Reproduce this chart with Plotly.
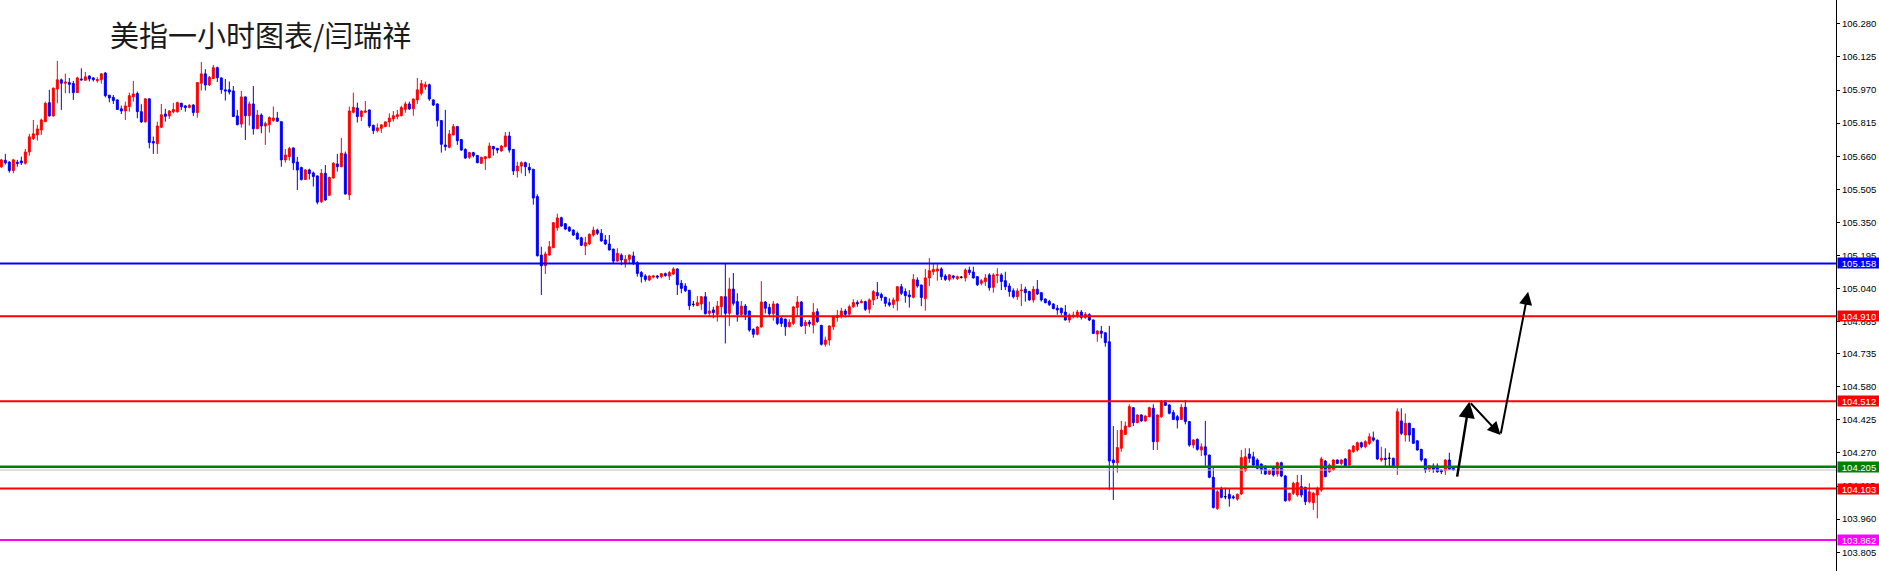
import plotly.graph_objects as go

# ---------------- data (hourly candles, price units) ----------------
opens = [
105.611,105.641,105.633,105.593,105.632,105.638,105.627,105.680,105.743,105.760,
105.783,105.822,105.911,105.849,105.975,106.018,106.002,106.005,106.001,105.958,
106.022,106.016,106.036,106.027,106.014,106.019,106.050,105.946,105.936,105.924,
105.882,105.872,105.893,105.939,105.954,105.869,105.821,105.929,105.729,105.719,
105.796,105.858,105.849,105.868,105.868,105.908,105.896,105.888,105.900,105.865,
106.002,106.046,105.994,106.024,106.075,106.027,105.971,105.971,105.966,105.849,
105.811,105.938,105.850,105.905,105.789,105.853,105.802,105.808,105.828,105.839,
105.822,105.643,105.658,105.699,105.633,105.607,105.551,105.596,105.582,105.568,
105.447,105.580,105.477,105.558,105.624,105.611,105.671,105.479,105.866,105.886,
105.846,105.866,105.877,105.805,105.780,105.791,105.799,105.821,105.835,105.846,
105.850,105.880,105.905,105.882,105.924,105.955,105.985,105.995,105.924,105.905,
105.827,105.713,105.702,105.760,105.799,105.738,105.692,105.655,105.677,105.664,
105.627,105.649,105.653,105.706,105.697,105.685,105.705,105.755,105.692,105.591,
105.614,105.630,105.608,105.599,105.471,105.197,105.147,105.197,105.232,105.325,
105.372,105.344,105.327,105.314,105.299,105.278,105.240,105.250,105.291,105.314,
105.299,105.268,105.249,105.225,105.169,105.197,105.158,105.177,105.193,105.161,
105.115,105.099,105.080,105.094,105.099,105.096,105.110,105.099,105.108,105.132,
105.065,105.052,105.032,104.966,104.960,104.968,105.002,104.924,104.940,104.919,
104.955,105.002,104.924,105.038,104.979,104.919,104.958,104.935,104.849,104.826,
104.860,104.977,104.952,104.922,104.968,104.901,104.897,104.861,104.877,104.952,
104.977,104.866,104.883,104.869,104.932,104.868,104.779,104.799,104.861,104.905,
104.912,104.935,104.920,104.955,104.975,104.974,104.979,104.943,104.987,105.021,
105.012,104.999,104.974,104.966,104.982,105.049,105.026,105.010,104.999,105.080,
105.057,104.993,105.090,105.119,105.122,105.132,105.099,105.083,105.099,105.087,
105.093,105.090,105.127,105.118,105.096,105.065,105.073,105.104,105.046,105.102,
105.104,105.077,105.052,105.030,105.002,105.030,105.037,105.026,104.987,105.037,
105.021,104.991,104.980,104.968,104.948,104.948,104.930,104.893,104.912,104.912,
104.930,104.905,104.918,104.893,104.827,104.841,104.833,104.791,104.237,104.224,
104.292,104.357,104.393,104.482,104.412,104.448,104.420,104.440,104.479,104.323,
104.440,104.513,104.495,104.459,104.440,104.427,104.484,104.417,104.307,104.334,
104.284,104.299,104.260,104.156,104.010,104.104,104.065,104.076,104.065,104.054,
104.078,104.187,104.265,104.252,104.237,104.218,104.198,104.171,104.198,104.171,
104.224,104.162,104.049,104.081,104.073,104.112,104.109,104.042,104.037,104.073,
104.096,104.232,104.182,104.190,104.237,104.221,104.242,104.213,104.276,104.284,
104.318,104.299,104.315,104.341,104.330,104.237,104.245,104.245,104.245,104.202,
104.420,104.354,104.409,104.385,104.327,104.287,104.242,104.193,104.209,104.209,
104.190,104.187,104.237,104.198,
]
highs = [
105.648,105.671,105.636,105.648,105.643,105.658,105.694,105.765,105.830,105.807,
105.836,105.916,105.971,105.982,106.107,106.024,106.047,106.027,106.013,106.033,
106.072,106.055,106.039,106.030,106.030,106.049,106.055,105.947,105.947,105.926,
105.897,105.916,105.958,106.013,105.963,105.904,105.931,105.931,105.752,105.822,
105.905,105.882,105.877,105.910,105.916,105.911,105.899,105.904,105.904,106.008,
106.102,106.068,106.036,106.088,106.080,106.029,106.022,106.010,105.989,105.877,
105.966,105.940,105.916,105.989,105.877,105.861,105.822,105.847,105.893,105.868,
105.824,105.694,105.704,105.701,105.657,105.611,105.599,105.602,105.588,105.570,
105.600,105.619,105.564,105.633,105.671,105.746,105.682,105.893,105.958,105.911,
105.875,105.919,105.879,105.808,105.814,105.809,105.823,105.861,105.872,105.877,
105.897,105.916,105.916,105.930,106.027,106.017,106.010,106.000,105.926,105.908,
105.829,105.877,105.783,105.811,105.802,105.741,105.697,105.681,105.681,105.666,
105.658,105.661,105.724,105.708,105.699,105.713,105.774,105.775,105.694,105.635,
105.636,105.635,105.627,105.601,105.482,105.236,105.213,105.263,105.350,105.391,
105.377,105.347,105.333,105.318,105.307,105.283,105.283,105.299,105.330,105.321,
105.319,105.291,105.291,105.227,105.229,105.205,105.197,105.200,105.213,105.168,
105.122,105.108,105.102,105.104,105.104,105.113,105.115,105.122,105.140,105.135,
105.080,105.065,105.034,104.982,105.005,105.005,105.024,104.979,104.955,104.982,
105.005,105.157,105.091,105.113,105.018,104.982,104.968,104.937,104.854,104.865,
105.075,104.982,104.969,104.982,104.971,104.908,104.900,104.896,104.958,105.005,
104.982,104.893,104.893,104.972,104.947,104.870,104.815,104.868,104.916,104.940,
104.950,104.945,104.965,104.990,104.985,104.990,104.983,104.994,105.033,105.071,
105.021,105.002,104.994,104.998,105.052,105.062,105.041,105.033,105.108,105.093,
105.058,105.132,105.183,105.155,105.155,105.140,105.108,105.107,105.104,105.101,
105.099,105.135,105.143,105.143,105.099,105.085,105.108,105.112,105.112,105.135,
105.112,105.119,105.065,105.041,105.041,105.062,105.049,105.030,105.052,105.080,
105.024,104.994,104.987,104.971,104.963,104.951,104.963,104.924,104.932,104.940,
104.940,104.930,104.925,104.895,104.846,104.865,104.835,104.865,104.396,104.377,
104.420,104.417,104.498,104.484,104.451,104.451,104.446,104.487,104.498,104.451,
104.518,104.518,104.498,104.471,104.448,104.499,104.518,104.419,104.334,104.338,
104.315,104.420,104.262,104.201,104.096,104.112,104.107,104.104,104.073,104.081,
104.284,104.292,104.292,104.276,104.245,104.221,104.213,104.193,104.209,104.229,
104.229,104.167,104.084,104.135,104.167,104.167,104.112,104.128,104.088,104.112,
104.252,104.237,104.221,104.240,104.240,104.240,104.245,104.287,104.307,104.323,
104.323,104.330,104.362,104.370,104.333,104.299,104.292,104.271,104.248,104.479,
104.479,104.455,104.412,104.387,104.330,104.289,104.244,104.213,104.221,104.221,
104.193,104.240,104.271,104.200,
]
lows = [
105.605,105.621,105.583,105.580,105.611,105.619,105.621,105.663,105.736,105.733,
105.760,105.822,105.846,105.846,105.908,105.877,105.955,105.955,105.924,105.957,
106.014,106.014,106.011,106.010,106.005,106.000,105.936,105.913,105.905,105.877,
105.858,105.830,105.869,105.916,105.838,105.816,105.818,105.697,105.671,105.671,
105.793,105.822,105.835,105.861,105.865,105.877,105.869,105.885,105.849,105.841,
105.968,105.968,105.989,106.022,106.008,105.953,105.921,105.949,105.844,105.805,
105.794,105.736,105.804,105.761,105.787,105.768,105.713,105.771,105.822,105.821,
105.611,105.630,105.640,105.596,105.502,105.546,105.549,105.551,105.518,105.435,
105.440,105.452,105.474,105.556,105.588,105.608,105.481,105.455,105.861,105.818,
105.825,105.864,105.793,105.764,105.771,105.769,105.797,105.796,105.822,105.833,
105.847,105.864,105.877,105.850,105.905,105.945,105.970,105.920,105.895,105.799,
105.677,105.686,105.697,105.758,105.713,105.685,105.647,105.647,105.655,105.627,
105.624,105.596,105.650,105.663,105.674,105.681,105.702,105.677,105.572,105.560,
105.580,105.567,105.580,105.433,105.190,105.010,105.108,105.194,105.229,105.311,
105.330,105.314,105.305,105.286,105.268,105.240,105.197,105.244,105.283,105.291,
105.260,105.244,105.218,105.158,105.166,105.150,105.138,105.158,105.150,105.096,
105.068,105.072,105.075,105.088,105.086,105.088,105.096,105.080,105.104,105.010,
105.018,105.024,104.940,104.955,104.958,104.940,104.919,104.908,104.901,104.885,
104.913,104.783,104.865,104.961,104.885,104.912,104.893,104.838,104.810,104.821,
104.858,104.924,104.908,104.890,104.869,104.861,104.819,104.859,104.869,104.908,
104.861,104.827,104.861,104.830,104.880,104.773,104.768,104.773,104.846,104.885,
104.900,104.905,104.912,104.950,104.955,104.971,104.935,104.924,104.963,104.991,
104.983,104.955,104.955,104.948,104.937,105.010,104.974,104.951,104.994,105.044,
104.958,104.937,105.052,105.104,105.077,105.080,105.076,105.073,105.083,105.080,
105.087,105.073,105.104,105.087,105.052,105.055,105.052,105.030,105.021,105.065,
105.033,105.033,105.002,104.994,104.987,104.958,104.979,104.983,104.974,105.010,
104.979,104.971,104.958,104.943,104.918,104.916,104.890,104.880,104.901,104.901,
104.895,104.898,104.888,104.827,104.791,104.807,104.768,104.096,104.050,104.178,
104.276,104.354,104.390,104.396,104.409,104.417,104.417,104.437,104.284,104.284,
104.435,104.490,104.451,104.424,104.385,104.424,104.404,104.299,104.292,104.281,
104.256,104.209,104.151,104.010,104.003,104.057,104.053,104.018,104.053,104.046,
104.073,104.182,104.224,104.209,104.193,104.171,104.167,104.167,104.159,104.159,
104.156,104.042,104.042,104.073,104.065,104.062,104.026,104.034,104.003,103.964,
104.088,104.156,104.177,104.187,104.218,104.213,104.202,104.209,104.271,104.276,
104.292,104.292,104.307,104.323,104.237,104.229,104.206,104.206,104.198,104.167,
104.354,104.323,104.323,104.313,104.281,104.229,104.177,104.182,104.177,104.177,
104.171,104.167,104.190,104.187,
]
closes = [
105.643,105.629,105.593,105.643,105.626,105.629,105.680,105.751,105.765,105.788,
105.830,105.908,105.849,105.979,106.018,106.002,106.008,105.997,105.958,106.027,
106.018,106.032,106.022,106.019,106.019,106.046,105.944,105.933,105.921,105.879,
105.872,105.896,105.944,105.952,105.869,105.821,105.929,105.724,105.722,105.802,
105.854,105.847,105.872,105.879,105.911,105.891,105.888,105.899,105.865,106.005,
106.046,105.994,106.030,106.075,106.028,105.972,105.966,105.961,105.846,105.808,
105.938,105.850,105.905,105.789,105.853,105.802,105.813,105.841,105.839,105.824,
105.643,105.666,105.696,105.629,105.596,105.551,105.596,105.579,105.565,105.445,
105.580,105.455,105.561,105.627,105.611,105.674,105.483,105.872,105.889,105.846,
105.872,105.872,105.802,105.780,105.793,105.807,105.821,105.839,105.850,105.855,
105.888,105.905,105.882,105.928,105.971,106.000,105.995,105.928,105.900,105.827,
105.716,105.705,105.764,105.799,105.733,105.689,105.652,105.677,105.664,105.630,
105.655,105.658,105.708,105.694,105.689,105.708,105.755,105.689,105.591,105.614,
105.630,105.611,105.596,105.464,105.194,105.147,105.202,105.236,105.349,105.371,
105.333,105.319,105.310,105.291,105.272,105.243,105.255,105.294,105.314,105.299,
105.263,105.249,105.221,105.169,105.205,105.174,105.177,105.197,105.158,105.111,
105.096,105.083,105.099,105.099,105.094,105.110,105.101,105.115,105.132,105.058,
105.041,105.030,104.960,104.966,104.974,105.002,104.922,104.935,104.927,104.958,
105.002,104.924,105.038,104.971,104.919,104.958,104.919,104.846,104.826,104.860,
104.977,104.948,104.922,104.968,104.877,104.877,104.861,104.882,104.954,104.977,
104.865,104.882,104.874,104.929,104.885,104.779,104.799,104.865,104.908,104.915,
104.935,104.920,104.955,104.975,104.968,104.980,104.943,104.987,105.026,105.007,
104.998,104.971,104.963,104.987,105.049,105.018,105.007,105.002,105.083,105.052,
104.998,105.090,105.124,105.130,105.132,105.096,105.083,105.104,105.093,105.096,
105.093,105.127,105.115,105.090,105.058,105.077,105.090,105.044,105.104,105.105,
105.073,105.049,105.026,105.002,105.029,105.033,105.021,104.987,105.037,105.015,
104.987,104.974,104.965,104.946,104.940,104.927,104.893,104.916,104.915,104.930,
104.905,104.920,104.893,104.830,104.841,104.830,104.787,104.232,104.224,104.295,
104.377,104.396,104.487,104.412,104.448,104.420,104.443,104.482,104.323,104.448,
104.513,104.493,104.456,104.427,104.424,104.484,104.417,104.307,104.331,104.287,
104.299,104.260,104.156,104.014,104.088,104.062,104.065,104.057,104.060,104.076,
104.248,104.252,104.245,104.213,104.198,104.190,104.171,104.187,104.167,104.224,
104.162,104.046,104.081,104.128,104.131,104.073,104.042,104.088,104.081,104.104,
104.242,104.159,104.213,104.237,104.221,104.237,104.206,104.284,104.302,104.318,
104.299,104.323,104.346,104.330,104.242,104.245,104.240,104.245,104.202,104.463,
104.362,104.409,104.354,104.315,104.284,104.237,104.190,104.210,104.193,104.182,
104.182,104.237,104.193,104.190,
]

level_prices = [105.158, 104.910, 104.512, 104.205, 104.103, 103.862]
level_colors = ["#0000FF", "#FF0000", "#FF0000", "#008000", "#FF0000", "#FF00FF"]
level_widths = [2, 2, 2, 2.5, 2, 2]
tick_values = [106.280, 106.125, 105.970, 105.815, 105.660, 105.505, 105.350, 105.195,
               105.040, 104.885, 104.735, 104.580, 104.425, 104.270, 104.115, 103.960, 103.805]
path_x = [363.9, 367.0, 374.8, 381.7]          # projected path (bar index)
path_y = [104.152, 104.510, 104.354, 105.025]  # projected path (price)
path_widths = [2.5, 2, 2]
title_text = "美指一小时图表/闫瑞祥"

# ---------------- figure ----------------
bars = list(range(len(opens)))
groups = {
    "up": ("#FF0000", [i for i in bars if closes[i] > opens[i]]),
    "down": ("#0000FF", [i for i in bars if closes[i] < opens[i]]),
    "doji": ("#000000", [i for i in bars if closes[i] == opens[i]]),
}

fig = go.Figure()
for name, (col, idx) in groups.items():
    style = dict(line=dict(color=col, width=1), fillcolor=col)
    fig.add_trace(go.Candlestick(
        x=idx,
        open=[opens[i] for i in idx],
        high=[highs[i] for i in idx],
        low=[lows[i] for i in idx],
        close=[closes[i] for i in idx],
        increasing=style, decreasing=style,
        whiskerwidth=0, name=name, hoverinfo="skip",
    ))

shapes = []
# bid line at last close
shapes.append(dict(type="line", xref="paper", x0=0, x1=1, yref="y",
                   y0=closes[-1], y1=closes[-1], line=dict(color="#C0C0C0", width=1)))
for p, c, w in zip(level_prices, level_colors, level_widths):
    shapes.append(dict(type="line", xref="paper", x0=0, x1=1, yref="y", y0=p, y1=p,
                       line=dict(color=c, width=w)))

annotations = []
for p, c in zip(level_prices, level_colors):
    annotations.append(dict(
        text=f"{p:.3f}", xref="paper", x=1, xanchor="left", xshift=1,
        yref="y", y=p, yanchor="middle", showarrow=False,
        bgcolor=c, width=42, height=10, borderpad=0,
        font=dict(family="Liberation Sans", size=9.5, color="white"),
    ))
for i in range(len(path_x) - 1):
    annotations.append(dict(
        x=path_x[i + 1], y=path_y[i + 1], ax=path_x[i], ay=path_y[i],
        xref="x", yref="y", axref="x", ayref="y", text="",
        showarrow=True, arrowhead=2, arrowsize=1.3, arrowwidth=path_widths[i],
        arrowcolor="#000000", standoff=0, startstandoff=0,
    ))
annotations.append(dict(
    text=title_text, xref="paper", x=108 / 1836, xanchor="left",
    yref="paper", y=1 - 34 / 571, yanchor="middle", showarrow=False,
    font=dict(family="Noto Sans CJK SC", size=29, color="#1a1a1a"),
))

fig.update_layout(
    width=1879, height=571,
    margin=dict(l=0, r=43, t=0, b=0),
    paper_bgcolor="white", plot_bgcolor="white",
    showlegend=False,
    xaxis=dict(range=[-0.333, 458.67], visible=False, showgrid=False,
               rangeslider=dict(visible=False), fixedrange=True),
    yaxis=dict(range=[103.717, 106.392], side="right", showgrid=False, zeroline=False,
               tickvals=tick_values, ticktext=[f"{v:.3f}" for v in tick_values],
               ticks="outside", ticklen=3, tickcolor="black",
               showline=True, linecolor="black", linewidth=1, automargin=False,
               tickfont=dict(family="Liberation Sans", size=9.5, color="black"),
               fixedrange=True),
    shapes=shapes, annotations=annotations,
)

fig.write_html(
    "out.html",
    config={"displayModeBar": False, "staticPlot": True},
    post_script="document.body.style.margin='0';document.body.style.padding='0';"
                "document.documentElement.style.overflow='hidden';",
)
